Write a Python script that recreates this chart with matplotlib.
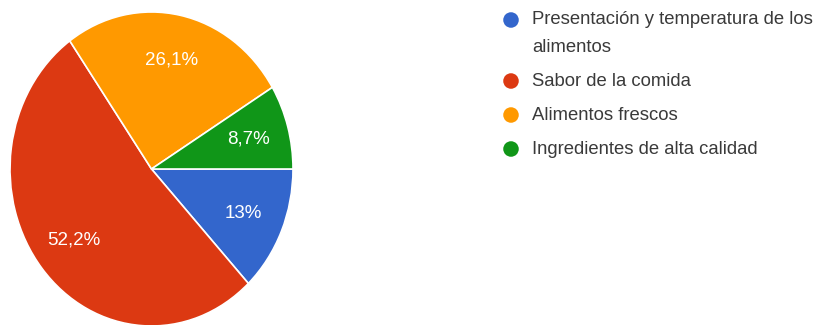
import numpy as np
import matplotlib.pyplot as plt

labels = ["Presentación y temperatura de los\nalimentos", "Sabor de la comida",
          "Alimentos frescos", "Ingredientes de alta calidad"]
values = [13.0, 52.2, 26.1, 8.7]
pct_labels = ["13%", "52,2%", "26,1%", "8,7%"]
colors = ["#3366cc", "#dc3912", "#ff9900", "#109618"]

plt.rcParams['font.family'] = ['Liberation Sans', 'DejaVu Sans']

W, H = 822, 325
fig = plt.figure(figsize=(W / 100, H / 100), dpi=100)

# pie area (slightly oval, clipped at the bottom edge)
ax = fig.add_axes([10 / W, -1 / H, 283 / W, 314 / H])
ax.pie(values, colors=colors, startangle=0, counterclock=False,
       wedgeprops=dict(edgecolor="white", linewidth=1.2))
ax.set_aspect("auto")
ax.set_xlim(-1, 1)
ax.set_ylim(-1, 1)

# percentage labels at the middle of each slice
theta = 0.0
for v, txt in zip(values, pct_labels):
    mid = np.deg2rad(theta - v * 3.6 / 2)
    theta -= v * 3.6
    ax.text(0.71 * np.cos(mid), 0.71 * np.sin(mid), txt, color="white",
            fontsize=13.5, ha="center", va="center")

# legend drawn by hand, in pixel coordinates
lax = fig.add_axes([0, 0, 1, 1], facecolor="none")
lax.set_xlim(0, W)
lax.set_ylim(H, 0)
lax.axis("off")

lx_dot, lx_txt = 511, 532
rows = [20, 81, 115, 149]
lax.scatter([lx_dot] * len(rows), rows, s=125, c=colors, edgecolors="none")
for lab, y in zip(labels, rows):
    for i, line in enumerate(lab.split("\n")):
        lax.text(lx_txt, y + 28 * i, line, fontsize=13.3, color="#3a3a3a",
                 ha="left", va="center")

fig.savefig("out.png", dpi=100)
